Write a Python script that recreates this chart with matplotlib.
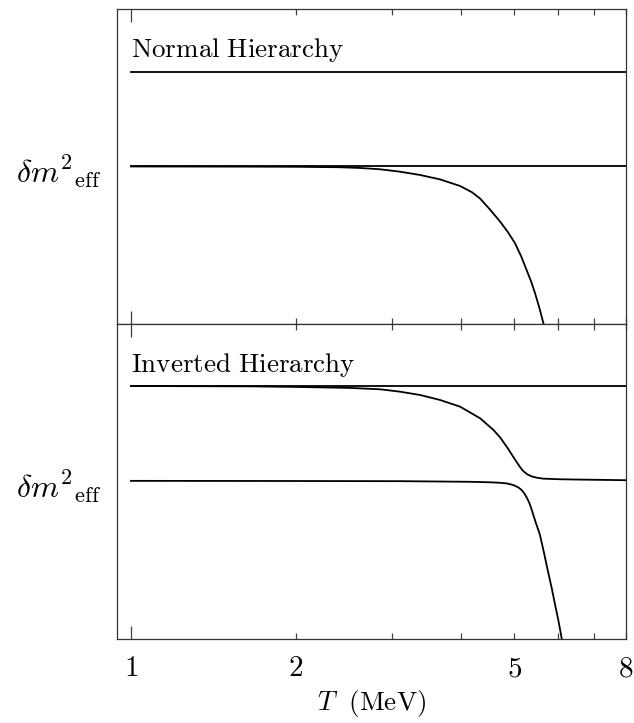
import numpy as np
import matplotlib
matplotlib.use("Agg")
import matplotlib.pyplot as plt

plt.rcParams['mathtext.fontset'] = 'cm'
plt.rcParams['font.family'] = 'DejaVu Serif'

# Normal hierarchy: two flat levels plus a falling branch
nh_upper_T = [1.0, 8.0]
nh_upper_y = [0.80, 0.80]
nh_flat_T = [1.0, 8.0]
nh_flat_y = [0.50, 0.50]
nh_fall_T = [1.0, 1.6, 2.0, 2.41, 2.62, 2.847, 3.095, 3.368, 3.664, 3.985, 4.19,
             4.335, 4.52, 4.714, 4.87, 5.02, 5.15, 5.27, 5.37, 5.46, 5.56, 5.655,
             5.75]
nh_fall_y = [0.500, 0.4995, 0.499, 0.4975, 0.4952, 0.4911, 0.4835, 0.473, 0.459,
             0.438, 0.418, 0.398, 0.363, 0.325, 0.292, 0.256, 0.215, 0.171, 0.135,
             0.0974, 0.051, 0.002, -0.05]

# Inverted hierarchy: flat upper level, crossing-over branch, falling branch
ih_upper_T = [1.0, 8.0]
ih_upper_y = [0.803, 0.803]
ih_cross_T = [1.0, 1.65, 2.03, 2.51, 2.847, 3.095, 3.368, 3.664, 3.985, 4.335,
              4.584, 4.714, 4.875, 4.97, 5.057, 5.13, 5.19, 5.28, 5.385, 5.50,
              5.65, 6.07, 6.60, 7.3, 8.0]
ih_cross_y = [0.803, 0.802, 0.800, 0.797, 0.7927, 0.7851, 0.7746, 0.7587, 0.7375,
              0.7006, 0.6635, 0.640, 0.604, 0.581, 0.561, 0.545, 0.534, 0.523,
              0.516, 0.512, 0.509, 0.507, 0.506, 0.505, 0.504]
ih_fall_T = [1.0, 2.0, 3.10, 3.6, 4.155, 4.50, 4.714, 4.86, 4.98, 5.08, 5.16,
             5.22, 5.27, 5.33, 5.38, 5.47, 5.57, 5.66, 5.76, 5.85, 5.93, 6.02,
             6.10, 6.20]
ih_fall_y = [0.502, 0.5015, 0.501, 0.500, 0.499, 0.4975, 0.4959, 0.4935,
             0.4889, 0.482, 0.473, 0.462, 0.4498, 0.432, 0.4120, 0.372, 0.332,
             0.279, 0.217, 0.165, 0.114, 0.060, 0.006, -0.06]

major_ticks = [1]
minor_ticks = [2, 3, 4, 5, 6, 7, 8]
minor_labels = [r'$2$', '', '', r'$5$', '', '', r'$8$']

fig, (ax1, ax2) = plt.subplots(2, 1, sharex=True, figsize=(6.34, 7.23), dpi=100)
fig.subplots_adjust(left=0.1845, right=0.9874, top=0.9876, bottom=0.1162, hspace=0)

lw = 1.3
ax1.plot(nh_upper_T, nh_upper_y, color='black', lw=lw)
ax1.plot(nh_flat_T, nh_flat_y, color='black', lw=lw)
ax1.plot(nh_fall_T, nh_fall_y, color='black', lw=lw)

ax2.plot(ih_upper_T, ih_upper_y, color='black', lw=lw)
ax2.plot(ih_cross_T, ih_cross_y, color='black', lw=lw)
ax2.plot(ih_fall_T, ih_fall_y, color='black', lw=lw)

for ax, name in [(ax1, 'Normal\\ Hierarchy'), (ax2, 'Inverted\\ Hierarchy')]:
    ax.set_xscale('log')
    ax.set_xlim(0.943, 8.0)
    ax.set_ylim(0, 1)
    ax.set_yticks([])
    ax.set_xticks(major_ticks)
    ax.set_xticks(minor_ticks, minor=True)
    ax.tick_params(axis='x', which='both', direction='in', top=True, bottom=True,
                   color='0.25', width=0.9)
    ax.tick_params(axis='x', which='major', length=9.5)
    ax.tick_params(axis='x', which='minor', length=4.5)
    for s in ax.spines.values():
        s.set_linewidth(0.9)
        s.set_color('0.2')
    ax.text(0.027, 0.87, r'$\mathrm{' + name + '}$', transform=ax.transAxes,
            fontsize=19.5, ha='left', va='center')
    ax.text(-0.03, 0.485, r'$\delta m^{2}{}_{\mathrm{eff}}$', transform=ax.transAxes,
            fontsize=23, ha='right', va='center')

ax1.tick_params(axis='x', which='both', labelbottom=False)
ax2.set_xticklabels([r'$1$'])
ax2.set_xticklabels(minor_labels, minor=True)
ax2.tick_params(axis='x', which='both', labelsize=21, pad=11)
ax2.set_xlabel(r'$T\ \ (\mathrm{MeV})$', fontsize=19.5, labelpad=4)

fig.savefig('out.png', dpi=100)
